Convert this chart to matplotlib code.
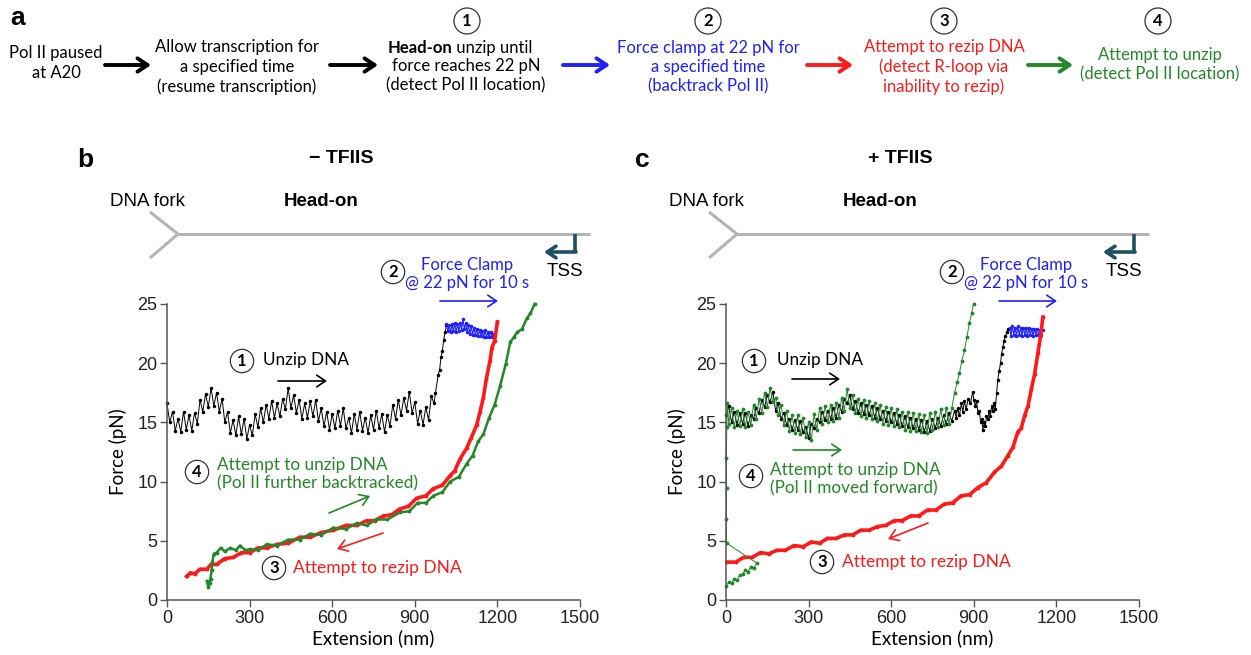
import matplotlib
matplotlib.use('Agg')
import matplotlib.pyplot as plt
from matplotlib.lines import Line2D
from matplotlib.patches import FancyArrowPatch

W, H = 1251, 655

# ---- panel b (- TFIIS) traces, extension (nm) / force (pN)
black_b_x = [0, 10, 20, 30, 40, 50, 60, 70, 80, 90, 100, 110, 120, 130, 140, 150, 160, 170, 180, 190,
             200, 210, 220, 230, 240, 250, 260, 270, 280, 290, 300, 310, 320, 330, 340, 350, 360, 370, 380, 390,
             400, 410, 420, 430, 440, 450, 460, 470, 480, 490, 500, 510, 520, 530, 540, 550, 560, 570, 580, 590,
             600, 610, 620, 630, 640, 650, 660, 670, 680, 690, 700, 710, 720, 730, 740, 750, 760, 770, 780, 790,
             800, 810, 820, 830, 840, 850, 860, 870, 880, 890, 900, 910, 920, 930, 940, 950, 960,
             970, 975, 985, 990, 995, 1000, 1005, 1010, 1015]
black_b_y = [16.6, 15.0, 15.9, 14.3, 15.3, 14.2, 15.9, 14.4, 15.6, 14.3, 15.8, 14.9, 16.9, 15.9, 17.4, 16.3, 17.9, 16.4, 17.5, 15.9,
             17.0, 15.0, 15.9, 14.1, 15.2, 13.9, 15.5, 14.0, 15.3, 13.6, 14.8, 13.9, 15.7, 14.6, 16.2, 15.0, 16.5, 15.3, 16.8, 15.4,
             16.6, 15.5, 17.0, 16.1, 17.9, 16.2, 17.3, 15.8, 16.9, 15.3, 16.6, 15.4, 16.8, 15.5, 16.9, 15.1, 16.2, 14.7, 15.9, 14.4,
             15.7, 14.5, 16.0, 14.7, 16.2, 14.5, 15.4, 14.1, 15.7, 14.4, 15.9, 14.3, 15.4, 14.1, 15.6, 14.4, 16.0, 14.5, 15.7, 14.2,
             15.6, 14.7, 16.5, 15.3, 16.9, 15.6, 17.1, 16.0, 17.6, 15.8, 16.7, 14.9, 16.0, 14.8, 16.3, 15.2, 17.2,
             16.6, 17.5, 19.0, 19.4, 20.5, 21.0, 22.0, 22.6, 23.2]
blue_b_x = [1015, 1020, 1025, 1030, 1035, 1040, 1045, 1050, 1055, 1060, 1065, 1070, 1075, 1080, 1085, 1090, 1095, 1100,
            1105, 1110, 1115, 1120, 1125, 1130, 1135, 1140, 1145, 1150, 1155, 1160, 1165, 1170, 1175, 1180, 1185]
blue_b_y = [23.3, 22.7, 23.2, 22.6, 23.3, 22.7, 23.4, 22.6, 23.3, 22.7, 23.4, 22.8, 23.7, 22.9, 23.4, 22.6, 23.2, 22.5,
            23.1, 22.4, 23.0, 22.4, 22.9, 22.3, 22.8, 22.3, 22.7, 22.2, 22.8, 22.2, 22.6, 22.2, 22.6, 22.2, 22.5]
red_b_x = [1200, 1190, 1180, 1173, 1160, 1149, 1137, 1125, 1105, 1088, 1064, 1045, 1028, 1000, 967, 940, 907, 876, 846, 816,
           786, 755, 725, 690, 650, 604, 560, 520, 483, 440, 400, 362, 330, 301, 270, 241, 210, 180, 160, 144,
           120, 100, 85, 71]
red_b_y = [23.5, 21.9, 21.3, 20.2, 18.7, 17.1, 15.9, 14.8, 13.7, 12.8, 11.9, 10.9, 10.5, 9.7, 9.4, 8.8, 8.6, 7.9, 7.7, 7.2,
           7.1, 6.7, 6.7, 6.3, 6.3, 5.9, 5.7, 5.3, 5.3, 4.8, 4.7, 4.4, 4.4, 4.0, 4.0, 3.6, 3.5, 3.0, 3.0, 2.6,
           2.6, 2.2, 2.3, 2.0]
green_b_x = [145, 150, 155, 158, 162, 165, 170, 180, 195, 210, 230, 250, 265, 285, 301, 330, 362, 400, 440, 483,
             520, 560, 604, 650, 690, 725, 760, 800, 846, 880, 910, 940, 967, 1000, 1028, 1060, 1088, 1110, 1130, 1149,
             1170, 1190, 1210, 1230, 1247, 1260, 1271, 1290, 1307, 1320, 1335]
green_b_y = [1.6, 1.1, 1.4, 1.8, 2.5, 3.2, 3.9, 4.0, 4.4, 4.1, 4.4, 4.2, 4.6, 4.2, 4.3, 4.2, 4.7, 4.6, 5.1, 5.1,
             5.6, 5.5, 6.1, 6.0, 6.5, 6.3, 6.8, 6.8, 7.4, 7.5, 8.2, 8.2, 8.8, 9.1, 10.0, 10.4, 11.5, 12.2, 13.4, 14.0,
             15.4, 16.5, 18.1, 19.9, 21.8, 22.2, 22.6, 22.9, 23.8, 24.2, 25.0]

# ---- panel c (+ TFIIS) traces
black_c_x = [0, 10, 20, 30, 40, 50, 60, 70, 80, 90, 100, 110, 120, 130, 140, 150, 160, 170, 180, 190,
             200, 210, 220, 230, 240, 250, 260, 270, 280, 290, 300, 310, 320, 330, 340, 350, 360, 370, 380, 390,
             400, 410, 420, 430, 440, 450, 460, 470, 480, 490, 500, 510, 520, 530, 540, 550, 560, 570, 580, 590,
             600, 610, 620, 630, 640, 650, 660, 670, 680, 690, 700, 710, 720, 730, 740, 750, 760, 770, 780, 790,
             800, 810, 820, 830, 836, 841, 848, 855, 860, 866, 872, 880, 888, 896, 900, 905, 910, 915, 920, 925,
             929, 933, 938, 942, 946, 951, 955, 960, 965, 969, 974, 978, 983, 987, 992, 997, 1001, 1006, 1010, 1015,
             1020, 1024]
black_c_y = [15.6, 16.4, 15.0, 15.9, 14.8, 15.8, 14.9, 15.8, 14.7, 15.6, 15.3, 16.2, 15.8, 16.9, 16.3, 17.3, 16.7, 17.6, 16.0, 16.6,
             15.3, 15.8, 14.8, 15.3, 14.4, 15.2, 14.4, 15.1, 14.2, 14.6, 13.7, 14.9, 14.5, 15.3, 15.0, 15.9, 15.2, 16.0, 15.3, 16.2,
             15.4, 16.5, 15.9, 17.0, 16.6, 17.3, 16.1, 16.8, 15.8, 16.6, 15.7, 16.5, 15.6, 16.4, 15.4, 16.2, 15.3, 16.0, 15.1, 15.9,
             15.0, 15.8, 14.9, 15.6, 14.7, 15.5, 14.6, 15.4, 14.5, 15.3, 14.4, 15.2, 14.2, 15.1, 14.3, 15.3, 14.5, 15.4, 14.7, 15.6,
             14.9, 15.8, 15.1, 16.0, 15.4, 16.2, 15.6, 16.6, 15.9, 16.8, 16.1, 17.0, 16.6, 17.6, 16.9, 16.4, 16.8, 15.8, 16.0, 15.0,
             15.3, 14.4, 15.0, 14.7, 15.5, 15.3, 16.0, 15.5, 16.4, 16.0, 16.6, 16.1, 17.5, 18.6, 19.3, 20.0, 20.8, 21.4, 21.9, 22.3,
             22.6, 22.9]
blue_c_x = [1030, 1035, 1040, 1045, 1050, 1055, 1060, 1065, 1070, 1075, 1080, 1085, 1090, 1095, 1100, 1105, 1110,
            1115, 1120, 1125, 1130, 1135, 1140, 1145, 1150]
blue_c_y = [23.0, 22.3, 23.1, 22.4, 23.0, 22.3, 23.1, 22.4, 23.0, 22.3, 23.0, 22.4, 23.0, 22.3, 23.0, 22.4, 22.9,
            22.3, 22.9, 22.4, 22.9, 22.4, 22.8, 22.4, 22.8]
red_c_x = [1151, 1142, 1133, 1121, 1109, 1097, 1085, 1072, 1060, 1042, 1024, 1000, 975, 945, 915, 885, 854, 823, 793, 762,
           732, 700, 670, 640, 611, 580, 550, 520, 490, 460, 430, 400, 368, 340, 310, 280, 247, 215, 185, 155,
           125, 95, 64, 35, 4]
red_c_y = [23.9, 22.2, 20.9, 19.1, 17.8, 16.4, 15.6, 14.5, 14.2, 12.9, 12.2, 11.3, 10.8, 9.9, 9.5, 8.9, 8.8, 8.2, 8.1, 7.6,
           7.6, 7.1, 7.1, 6.7, 6.7, 6.3, 6.2, 5.9, 5.9, 5.5, 5.5, 5.2, 5.2, 4.8, 4.9, 4.5, 4.6, 4.2, 4.2, 3.9,
           4.0, 3.6, 3.6, 3.2, 3.2]
green_c_x = [0, 10, 20, 30, 40, 50, 60, 70, 80, 90, 100, 113, 2, 1, 2, 1, 3,
             5, 10, 20, 30, 40, 50, 60, 70, 80, 90, 100, 110, 120, 130, 140, 150, 160, 170, 180, 190,
             200, 210, 220, 230, 240, 250, 260, 270, 280, 290, 300, 310, 320, 330, 340, 350, 360, 370, 380, 390,
             400, 410, 420, 430, 440, 450, 460, 470, 480, 490, 500, 510, 520, 530, 540, 550, 560, 570, 580, 590,
             600, 610, 620, 630, 640, 650, 660, 670, 680, 690, 700, 710, 720, 730, 740, 750, 760, 770, 780, 790,
             800, 810, 820, 830, 840, 848, 857, 866, 875, 884, 892, 899]
green_c_y = [1.2, 1.5, 1.4, 1.8, 1.7, 2.1, 2.2, 2.5, 2.4, 2.8, 2.7, 3.1, 4.8, 6.8, 9.5, 12.0, 14.6,
             16.6, 14.9, 16.2, 14.6, 16.0, 14.7, 16.1, 14.6, 15.9, 14.8, 16.5, 15.3, 17.0, 15.8, 17.5, 16.3, 17.9, 16.7, 17.1, 15.6,
             16.5, 14.8, 16.0, 14.3, 15.6, 14.1, 15.6, 14.0, 15.4, 13.8, 15.0, 13.5, 15.7, 14.4, 16.2, 14.9, 16.4, 15.0, 16.5, 15.1,
             16.6, 15.4, 17.1, 16.0, 17.8, 16.2, 17.3, 15.8, 17.0, 15.5, 16.9, 15.4, 16.8, 15.3, 16.6, 15.1, 16.5, 14.9, 16.3, 14.8,
             16.2, 14.7, 16.1, 14.6, 15.9, 14.4, 15.9, 14.3, 15.8, 14.3, 15.7, 14.2, 15.6, 14.1, 15.8, 14.4, 15.9, 14.6, 16.1, 14.8,
             16.2, 14.9, 16.2, 17.5, 18.4, 19.2, 20.2, 21.1, 22.2, 23.4, 24.2, 25.0]

xticks = [0, 300, 600, 900, 1200, 1500]
yticks = [0, 5, 10, 15, 20, 25]

BLUE = '#1f1fff'
RED = '#ff1a1a'
GREEN = '#23882a'
TEAL = '#1d4f5f'
GREY = '#b4b4b4'
CAL = ['Lato', 'DejaVu Sans']
ARI = ['Liberation Sans', 'DejaVu Sans']

fig = plt.figure(figsize=(W / 100, H / 100), dpi=100)


def fx(x):
    return x / W


def fy(y):
    return 1 - y / H


def txt(x, y, s, **kw):
    kw.setdefault('ha', 'center')
    kw.setdefault('va', 'center')
    kw.setdefault('family', CAL)
    kw.setdefault('fontsize', 12)
    fig.text(fx(x), fy(y), s, **kw)


def circ(x, y, n, size=12, pad=0.3):
    fig.text(fx(x), fy(y), n, ha='center', va='center', fontsize=size, family=CAL,
             fontweight='bold',
             bbox=dict(boxstyle='circle,pad=%s' % pad, fc='white', ec='#333333', lw=0.9))


def arrow(x1, y1, x2, y2, color, lw=1.2, ms=14):
    fig.add_artist(FancyArrowPatch(
        (fx(x1), fy(y1)), (fx(x2), fy(y2)), transform=fig.transFigure,
        arrowstyle='->,head_length=0.45,head_width=0.3', color=color, lw=lw,
        mutation_scale=ms, shrinkA=0, shrinkB=0))


def seg(xs, ys, color, lw):
    fig.add_artist(Line2D([fx(v) for v in xs], [fy(v) for v in ys], transform=fig.transFigure,
                          color=color, lw=lw, solid_capstyle='butt'))


# ---- panel a : flow of the experiment
txt(18, 18, 'a', fontsize=19, fontweight='bold', family=ARI)
txt(56, 63, 'Pol II paused\nat A20', linespacing=1.25)
arrow(105, 65, 151, 65, 'black', lw=2.8, ms=16)
txt(237, 67, 'Allow transcription for\na specified time\n(resume transcription)', linespacing=1.25)
arrow(330, 65, 378, 65, 'black', lw=2.8, ms=16)
circ(467, 21, '1')
txt(452, 48, 'Head-on', ha='right', fontweight='bold')
txt(452, 48, ' unzip until', ha='left')
txt(466, 76, 'force reaches 22 pN\n(detect Pol II location)', linespacing=1.25)
arrow(563, 65, 610, 65, BLUE, lw=2.8, ms=16)
circ(708, 21, '2')
txt(708, 67, 'Force clamp at 22 pN for\na specified time\n(backtrack Pol II)', color=BLUE, linespacing=1.25)
arrow(807, 65, 853, 65, RED, lw=2.8, ms=16)
circ(944, 21, '3')
txt(944, 67, 'Attempt to rezip DNA\n(detect R-loop via\ninability to rezip)', color=RED, linespacing=1.25)
arrow(1028, 65, 1073, 65, GREEN, lw=2.8, ms=16)
circ(1158, 21, '4')
txt(1160, 65, 'Attempt to unzip\n(detect Pol II location)', color=GREEN, linespacing=1.25)

# ---- panels b and c
panels = [
    dict(left=167, label='b', title='\u2212 TFIIS', black=(black_b_x, black_b_y), blue=(blue_b_x, blue_b_y),
         red=(red_b_x, red_b_y), green=(green_b_x, green_b_y),
         note4='Attempt to unzip DNA\n(Pol II further backtracked)'),
    dict(left=726, label='c', title='+ TFIIS', black=(black_c_x, black_c_y), blue=(blue_c_x, blue_c_y),
         red=(red_c_x, red_c_y), green=(green_c_x, green_c_y),
         note4='Attempt to unzip DNA\n(Pol II moved forward)'),
]

for k, p in enumerate(panels):
    L = p['left']
    ax = fig.add_axes([fx(L), 1 - 600 / H, 413 / W, 296 / H])
    for key, col, lw, ms in [('black', 'black', 0.7, 3), ('blue', BLUE, 0.8, 3),
                             ('red', RED, 2.6, 3.5), ('green', GREEN, 1.8, 3.5)]:
        xs, ys = p[key]
        if key == 'green' and k == 1:
            lw = 0.7
        ax.plot(xs, ys, '-', color=col, lw=lw, marker='.', ms=ms, clip_on=False)
    ax.set_xlim(0, 1500)
    ax.set_ylim(0, 25)
    ax.set_xticks(xticks)
    ax.set_yticks(yticks)
    for s in ['top', 'right']:
        ax.spines[s].set_visible(False)
    for s in ['left', 'bottom']:
        ax.spines[s].set_color('#555555')
        ax.spines[s].set_linewidth(1.1)
    ax.tick_params(direction='out', length=5, width=1, color='#555555', labelsize=13, pad=2)
    for t in ax.get_xticklabels() + ax.get_yticklabels():
        t.set_family(ARI)
        t.set_color('#222222')
    ax.set_facecolor('none')

    d = L - 167
    txt(85 + d - (2 if k else 0), 160, p['label'], fontsize=19, fontweight='bold', family=ARI)
    txt(341 + d, 158, p['title'], fontsize=14, fontweight='bold', family=ARI)
    txt(110 + d, 201, 'DNA fork', ha='left', fontsize=13.5, family=ARI)
    txt(321 + d, 201, 'Head-on', fontsize=13.5, fontweight='bold', family=ARI)
    # DNA fork diagram
    seg([150 + d, 178 + d, 150 + d], [212, 234, 258], GREY, 2.2)
    seg([178 + d, 590 + d], [234, 234], GREY, 2.2)
    seg([575 + d, 575 + d], [234, 252], TEAL, 2.6)
    arrow(576 + d, 252, 544 + d, 252, TEAL, lw=2.6, ms=14)
    txt(565 + d, 272, 'TSS', fontsize=13.5, family=ARI)
    # force clamp note
    circ(393 + d, 272, '2', size=12, pad=0.22)
    txt(467 + d, 274, 'Force Clamp\n@ 22 pN for 10 s', color=BLUE, fontsize=12, linespacing=1.15)
    arrow(440 + d, 301, 498 + d, 301, BLUE)
    # axis labels
    txt(118 + d, 452, 'Force (pN)', rotation=90, fontsize=13.5)
    txt(373 + d, 638, 'Extension (nm)', fontsize=13.5)

# in-plot notes, panel b
circ(242, 361, '1', pad=0.22)
txt(263, 360, 'Unzip DNA', ha='left', fontsize=12.3)
arrow(278, 381, 327, 381, 'black')
circ(197, 472, '4', pad=0.22)
txt(217, 474, panels[0]['note4'], ha='left', fontsize=12.3, color=GREEN, linespacing=1.2)
arrow(329, 513, 370, 496, GREEN)
arrow(383, 533, 337, 549, RED)
circ(274, 568, '3', pad=0.22)
txt(293, 568, 'Attempt to rezip DNA', ha='left', fontsize=12.5, color=RED)

# in-plot notes, panel c
circ(754, 361, '1', pad=0.22)
txt(777, 360, 'Unzip DNA', ha='left', fontsize=12.3)
arrow(792, 379, 840, 379, 'black')
arrow(793, 450, 842, 450, GREEN)
circ(751, 476, '4', pad=0.22)
txt(770, 479, panels[1]['note4'], ha='left', fontsize=12.3, color=GREEN, linespacing=1.2)
arrow(928, 523, 888, 539, RED)
circ(822, 562, '3', pad=0.22)
txt(842, 562, 'Attempt to rezip DNA', ha='left', fontsize=12.5, color=RED)

fig.savefig('out.png', dpi=100)
